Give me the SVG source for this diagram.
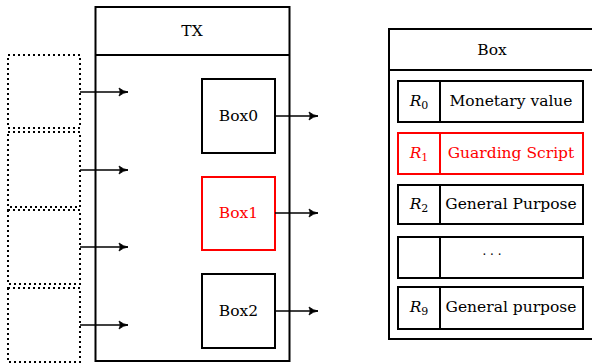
<svg xmlns="http://www.w3.org/2000/svg" width="592" height="363" viewBox="0 0 592 363">
<defs>
<marker id="ah" markerWidth="12" markerHeight="12" refX="10" refY="6" orient="auto" markerUnits="userSpaceOnUse">
<path d="M1,2 Q5,5.3 10,6 Q5,6.7 1,10 Q3.5,6 1,2 Z" fill="#000" stroke="#000" stroke-width="0.8"/>
</marker>
<style>
text{font-family:'DejaVu Serif',serif;font-size:15.5px;fill:#000;text-anchor:middle;dominant-baseline:central}
.b{fill:#fff;stroke:#000;stroke-width:2}
.r{fill:#fff;stroke:#f00;stroke-width:2}
.dot{fill:none;stroke:#000;stroke-width:2;stroke-dasharray:2 3}
.red{fill:#f00}
.ln{stroke:#000;stroke-width:1.6;fill:none}
.it{font-style:italic}
.sub{font-size:11px}
</style>
</defs>
<rect width="592" height="363" fill="#fff"/>
<g id="inputs">
<rect class="dot" x="8" y="55" width="72" height="73"/>
<rect class="dot" x="8" y="132" width="72" height="75"/>
<rect class="dot" x="8" y="210" width="72" height="74"/>
<rect class="dot" x="8" y="288" width="72" height="74"/>
</g>
<g id="tx">
<rect class="b" x="95.5" y="7" width="194" height="354" fill="none"/>
<line x1="95.5" y1="55" x2="289.5" y2="55" stroke="#000" stroke-width="2"/>
<text x="192" y="31">TX</text>
</g>
<g id="box0"><rect class="b" x="202" y="79" width="73" height="74"/><text x="238.5" y="116">Box0</text></g>
<g id="box1"><rect class="r" x="202" y="177" width="73" height="73"/><text class="red" x="238.5" y="213">Box1</text></g>
<g id="box2"><rect class="b" x="202" y="274" width="73" height="74"/><text x="238.5" y="311">Box2</text></g>
<g id="connectors">
<line class="ln" x1="80" y1="92" x2="128" y2="92" marker-end="url(#ah)"/>
<line class="ln" x1="80" y1="170" x2="128" y2="170" marker-end="url(#ah)"/>
<line class="ln" x1="80" y1="247" x2="128" y2="247" marker-end="url(#ah)"/>
<line class="ln" x1="80" y1="325" x2="128" y2="325" marker-end="url(#ah)"/>
<line class="ln" x1="275" y1="116" x2="318" y2="116" marker-end="url(#ah)"/>
<line class="ln" x1="275" y1="213" x2="318" y2="213" marker-end="url(#ah)"/>
<line class="ln" x1="275" y1="311" x2="318" y2="311" marker-end="url(#ah)"/>
</g>
<g id="boxstruct">
<rect class="b" x="389" y="29" width="210" height="310"/>
<line x1="389" y1="70" x2="599" y2="70" stroke="#000" stroke-width="2"/>
<text x="492" y="50">Box</text>
</g>
<g id="row0">
<rect class="b" x="398" y="81" width="185" height="41"/>
<line x1="440" y1="81" x2="440" y2="122" stroke="#000" stroke-width="2"/>
<text x="419" y="101"><tspan class="it">R</tspan><tspan class="sub" dy="4">0</tspan></text>
<text x="511" y="101">Monetary value</text>
</g>
<g id="row1">
<rect class="r" x="398" y="133" width="185" height="41"/>
<line x1="440" y1="133" x2="440" y2="174" stroke="#f00" stroke-width="2"/>
<text class="red" x="419" y="153"><tspan class="it">R</tspan><tspan class="sub" dy="4">1</tspan></text>
<text class="red" x="511" y="153">Guarding Script</text>
</g>
<g id="row2">
<rect class="b" x="398" y="185" width="185" height="39"/>
<line x1="440" y1="185" x2="440" y2="224" stroke="#000" stroke-width="2"/>
<text x="419" y="204"><tspan class="it">R</tspan><tspan class="sub" dy="4">2</tspan></text>
<text x="511" y="204">General Purpose</text>
</g>
<g id="rowdots">
<rect class="b" x="398" y="237" width="185" height="41"/>
<line x1="440" y1="237" x2="440" y2="278" stroke="#000" stroke-width="2"/>
<text x="492" y="255" style="font-size:12px">· · ·</text>
</g>
<g id="row9">
<rect class="b" x="398" y="287" width="185" height="42"/>
<line x1="440" y1="287" x2="440" y2="329" stroke="#000" stroke-width="2"/>
<text x="419" y="307"><tspan class="it">R</tspan><tspan class="sub" dy="4">9</tspan></text>
<text x="511" y="307">General purpose</text>
</g>
</svg>
